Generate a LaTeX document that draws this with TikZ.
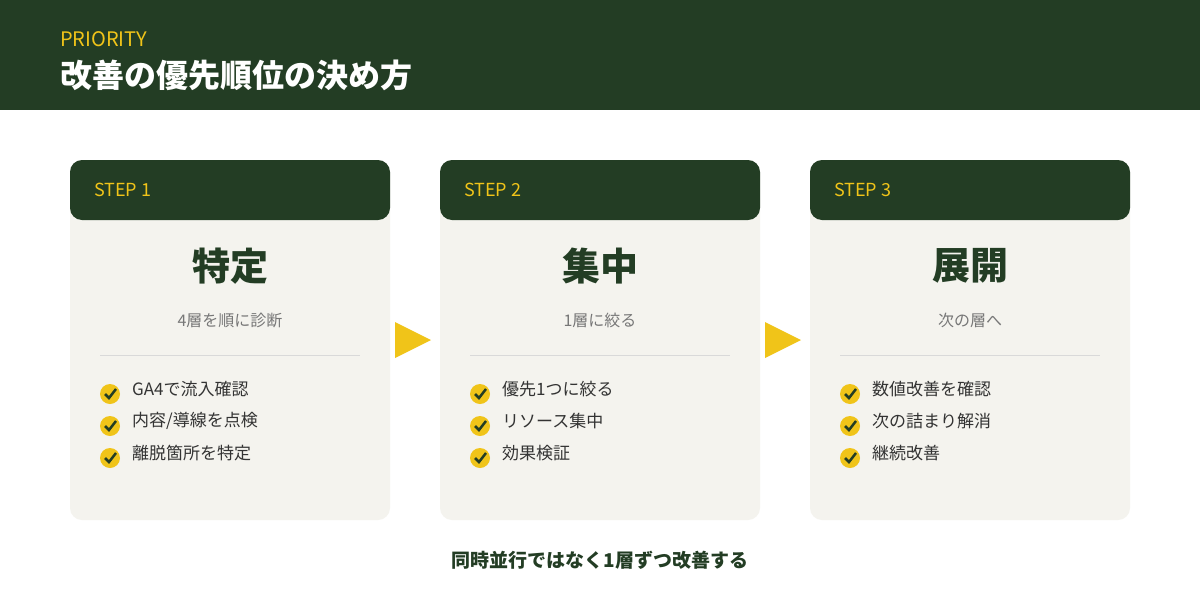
\documentclass[tikz,border=0pt]{standalone}
\usepackage{fontspec}
\setmainfont{Noto Sans CJK JP}
\newfontfamily\jpb{Noto Sans CJK JP}[BoldFont={* Bold}]
\definecolor{dg}{HTML}{233D24}
\definecolor{yl}{HTML}{F0C419}
\definecolor{cardbg}{HTML}{F4F3EE}
\definecolor{gr}{HTML}{777777}
\definecolor{tx}{HTML}{333333}
\begin{document}
\begin{tikzpicture}[x=1pt,y=-1pt,
  card/.style={fill=cardbg,rounded corners=12pt},
  chk/.style={circle,fill=yl,minimum size=20pt,inner sep=0pt},
  item/.style={anchor=west,font=\fontsize{17}{20}\selectfont,text=tx,inner sep=0pt},
  steplbl/.style={anchor=west,font=\fontsize{18}{20}\selectfont,text=yl,inner sep=0pt},
  ttl/.style={font=\fontsize{38}{40}\selectfont\bfseries,text=dg},
  sub/.style={font=\fontsize{16}{18}\selectfont,text=gr},
  arr/.style={fill=yl,draw=none}]
\useasboundingbox (0,0) rectangle (1200,600);
\fill[white] (0,0) rectangle (1200,600);
\fill[dg] (0,0) rectangle (1200,110);
\node[anchor=west,inner sep=0pt,text=yl,font=\fontsize{20}{22}\selectfont] (pri) at (60,39) {PRIORITY};
\node[anchor=west,inner sep=0pt,text=white,font=\fontsize{32}{36}\selectfont\bfseries] (ttl) at (60,75) {改善の優先順位の決め方};
\newcommand{\card}[6]{%
  \begin{scope}[shift={(#1,0)}]
  \fill[card] (0,160) rectangle (320,520);
  \fill[dg,rounded corners=12pt] (0,160) rectangle (320,220);
  \node[steplbl] (s#6) at (24,190) {#2};
  \node[ttl] (t#6) at (160,266) {#3};
  \node[sub] (u#6) at (160,320) {#4};
  \draw[draw=black!15] (30,355) -- (290,355);
  #5
  \end{scope}}
\newcommand{\itm}[3]{%
  \node[chk] (c#3) at (40,#2) {};
  \draw[dg,line width=2.5pt] ([shift={(-5,0)}]c#3.center) -- ([shift={(-1,4)}]c#3.center) -- ([shift={(6,-5)}]c#3.center);
  \node[item] (i#3) at (62,#2-5) {#1};}
\card{70}{STEP 1}{特定}{4層を順に診断}{\itm{GA4で流入確認}{394}{a1}\itm{内容/導線を点検}{426}{a2}\itm{離脱箇所を特定}{458}{a3}}{1}
\card{440}{STEP 2}{集中}{1層に絞る}{\itm{優先1つに絞る}{394}{b1}\itm{リソース集中}{426}{b2}\itm{効果検証}{458}{b3}}{2}
\card{810}{STEP 3}{展開}{次の層へ}{\itm{数値改善を確認}{394}{c1}\itm{次の詰まり解消}{426}{c2}\itm{継続改善}{458}{c3}}{3}
\fill[arr] (395,322) -- (431,340) -- (395,358) -- cycle;
\fill[arr] (765,322) -- (801,340) -- (765,358) -- cycle;
\node[text=dg,font=\fontsize{19}{22}\selectfont\bfseries] (foot) at (600,560) {同時並行ではなく1層ずつ改善する};
\end{tikzpicture}
\end{document}
